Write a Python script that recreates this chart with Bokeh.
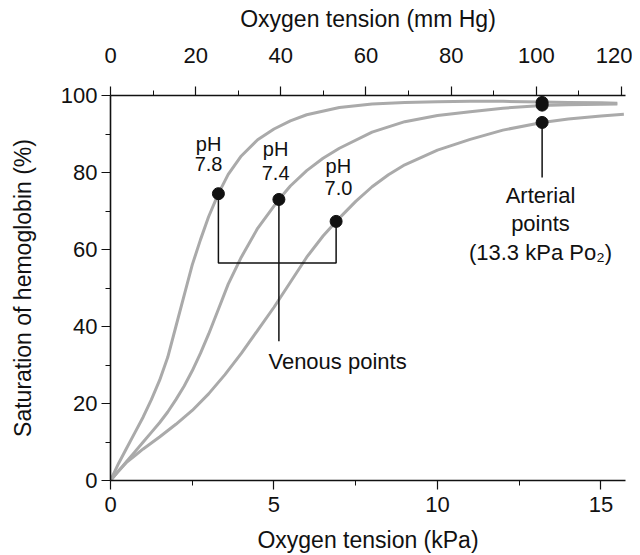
from bokeh.plotting import figure
from bokeh.models import LinearAxis, Range1d, FixedTicker, Label
from bokeh.embed import file_html
from bokeh.resources import INLINE

# ---- data ----
kpa_78 = [0, 0.25, 0.5, 0.75, 1.0, 1.25, 1.5, 1.75, 2.0, 2.25, 2.5, 2.75, 3.0, 3.3, 3.6,
          4.0, 4.5, 5.0, 5.5, 6.0, 7.0, 8.0, 9.0, 10, 11, 12, 13.2, 14, 15, 15.5]
sat_78 = [0, 4.5, 8.5, 12.5, 16.5, 21, 26, 32, 40, 48, 56, 62.5, 68.5, 74.5, 79.5,
          84.3, 88.5, 91.3, 93.4, 95, 96.9, 97.8, 98.2, 98.4, 98.5, 98.5, 98.3, 98.2, 98.1, 98.0]

kpa_74 = [0, 0.25, 0.5, 0.75, 1.0, 1.25, 1.5, 1.75, 2.0, 2.25, 2.5, 2.75, 3.0, 3.3, 3.6,
          4.0, 4.5, 5.15, 5.5, 6.0, 6.5, 7.0, 8.0, 9.0, 10, 11, 12, 13.2, 14, 15, 15.5]
sat_74 = [0, 2.5, 5, 7.5, 10, 12.5, 15, 17.8, 21, 24.5, 28.5, 33, 38, 44.5, 51,
          58, 65.5, 73, 76.5, 80.5, 83.7, 86.3, 90.5, 93.2, 94.8, 95.8, 96.7, 97.4, 97.6, 97.7, 97.8]

kpa_70 = [0, 0.25, 0.5, 0.75, 1.0, 1.5, 2.0, 2.5, 3.0, 3.5, 4.0, 4.5, 5.0, 5.5, 6.0,
          6.5, 6.9, 7.5, 8.0, 8.5, 9.0, 10, 11, 12, 13.2, 14, 15, 15.7]
sat_70 = [0, 2.5, 4.8, 6.5, 8.2, 11.3, 14.6, 18.2, 22.5, 27.5, 33, 39, 45, 51.5, 58,
          63.5, 67.3, 72.5, 76.3, 79.4, 82, 85.8, 88.6, 91, 93, 93.9, 94.7, 95.1]

ph_labels = ["7.8", "7.4", "7.0"]
venous_kpa = [3.3, 5.15, 6.9]
venous_sat = [74.5, 73.0, 67.3]
arterial_kpa = [13.2, 13.2, 13.2]
arterial_sat = [98.2, 97.5, 93.0]

bottom_ticks = [0, 5, 10, 15]
bottom_minor = [2.5, 7.5, 12.5]
top_ticks = [0, 20, 40, 60, 80, 100, 120]
top_minor = [10, 30, 50, 70, 90, 110]
left_ticks = [0, 20, 40, 60, 80, 100]
left_minor = [10, 30, 50, 70, 90]

FONT = "Liberation Sans"
CURVE = "#aaaaaa"
INK = "#111111"

p = figure(frame_width=515, frame_height=385,
           x_range=Range1d(0, 15.75), y_range=Range1d(0, 100),
           output_backend="svg", toolbar_location=None,
           min_border_left=110, min_border_top=95,
           min_border_right=7, min_border_bottom=66)
p.outline_line_color = None
p.xgrid.visible = False
p.ygrid.visible = False
p.background_fill_color = "white"
p.border_fill_color = "white"

p.extra_x_ranges = {"mmhg": Range1d(0, 120.94)}
top = LinearAxis(x_range_name="mmhg", axis_label="Oxygen tension (mm Hg)")
p.add_layout(top, "above")

bottom = p.below[0]
left = p.left[0]
bottom.axis_label = "Oxygen tension (kPa)"
left.axis_label = "Saturation of hemoglobin (%)"

bottom.ticker = FixedTicker(ticks=bottom_ticks, minor_ticks=bottom_minor)
top.ticker = FixedTicker(ticks=top_ticks, minor_ticks=top_minor)
left.ticker = FixedTicker(ticks=left_ticks, minor_ticks=left_minor)

for ax in [bottom, top, left]:
    ax.axis_line_color = INK
    ax.axis_line_width = 1.6
    ax.major_tick_line_color = INK
    ax.major_tick_line_width = 1.2
    ax.minor_tick_line_color = INK
    ax.minor_tick_line_width = 1.0
    ax.major_tick_out = 9
    ax.major_tick_in = 0
    ax.minor_tick_out = 5
    ax.minor_tick_in = 0
    ax.major_label_text_font = FONT
    ax.major_label_text_font_size = "22px"
    ax.major_label_text_color = INK
    ax.axis_label_text_font = FONT
    ax.axis_label_text_font_size = "23px"
    ax.axis_label_text_font_style = "normal"
    ax.axis_label_text_color = INK

bottom.major_label_standoff = 7
bottom.axis_label_standoff = 12
top.major_label_standoff = 24
top.axis_label_standoff = 13
left.major_label_standoff = 4
left.axis_label_standoff = 22

# curves
for xs, ys in [(kpa_78, sat_78), (kpa_74, sat_74), (kpa_70, sat_70)]:
    p.line(xs, ys, line_color=CURVE, line_width=3, line_join="round")

# venous bracket
bx0, bx1, bx2 = venous_kpa
by = 56.5
p.line([bx0, bx0, bx2, bx2], [venous_sat[0], by, by, venous_sat[2]],
       line_color=INK, line_width=1.5)
p.line([bx1, bx1], [venous_sat[1], 36.2], line_color=INK, line_width=1.5)
# arterial pointer
p.line([arterial_kpa[2], arterial_kpa[2]], [arterial_sat[2], 78.7],
       line_color=INK, line_width=1.5)

p.scatter(venous_kpa, venous_sat, size=12, color=INK)
p.scatter(arterial_kpa, arterial_sat, size=12, color=INK)

# annotations
lab_pos = [(3.0, 87.5, 82.3), (5.05, 86.0, 80.0), (6.97, 81.6, 76.1)]
for (lx, y1, y2), ph in zip(lab_pos, ph_labels):
    p.add_layout(Label(x=lx, y=y1, text="pH", text_align="center", text_baseline="middle",
                       text_font=FONT, text_font_size="20px", text_color=INK))
    p.add_layout(Label(x=lx, y=y2, text=ph, text_align="center", text_baseline="middle",
                       text_font=FONT, text_font_size="20px", text_color=INK))

for ty, t in [(74.0, "Arterial"), (66.8, "points"), (59.3, "(13.3 kPa Po\u2082)")]:
    p.add_layout(Label(x=13.15, y=ty, text=t, text_align="center", text_baseline="middle",
                       text_font=FONT, text_font_size="22px", text_color=INK))

p.add_layout(Label(x=4.83, y=31.0, text="Venous points", text_align="left",
                   text_baseline="middle", text_font=FONT, text_font_size="22px",
                   text_color=INK))

open("out.html", "w").write(file_html(p, INLINE))
